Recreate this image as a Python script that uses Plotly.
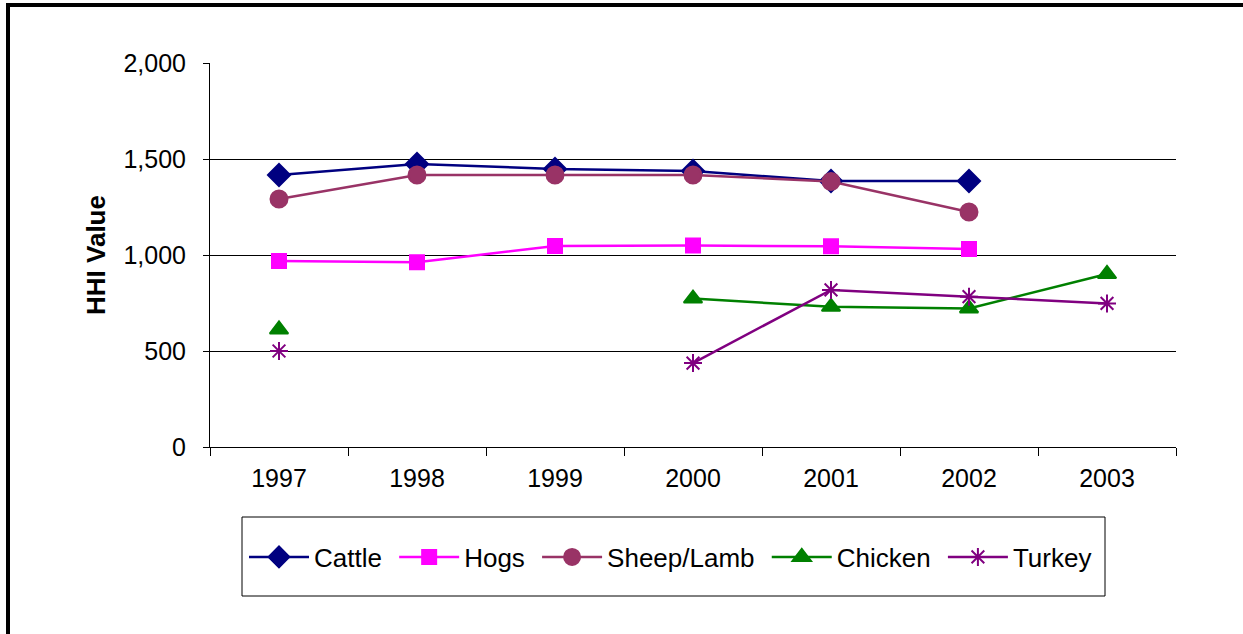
import plotly.graph_objects as go

years = ["1997", "1998", "1999", "2000", "2001", "2002", "2003"]
cattle = [1417, 1474, 1448, 1438, 1385, 1385, None]
hogs = [969, 962, 1047, 1050, 1045, 1031, None]
sheep = [1292, 1417, 1417, 1417, 1383, 1224, None]
chicken = [612, None, None, 773, 730, 722, 901]
turkey = [500, None, None, 437, 818, 783, 748]

series = [
    ("Cattle", cattle, "#000080", "diamond", 17),
    ("Hogs", hogs, "#FF00FF", "square", 14),
    ("Sheep/Lamb", sheep, "#993366", "circle", 17),
    ("Chicken", chicken, "#008000", "triangle-up", 16),
    ("Turkey", turkey, "#800080", "asterisk-open", 15),
]

W, H = 1243, 634
L, R, T, B = 210, 67, 63, 187
pw, ph = W - L - R, H - T - B

fig = go.Figure()
for name, vals, color, sym, size in series:
    fig.add_trace(go.Scatter(
        x=years, y=vals, name=name + "\u00a0", mode="lines+markers",
        line=dict(color=color, width=2.5),
        marker=dict(symbol=sym, size=size, color=color,
                    line=dict(color=color, width=2)),
        connectgaps=False,
    ))

def px_x(p):
    return (p - L) / pw

def px_y(p):
    return (H - B - p) / ph

shapes = [
    dict(type="line", xref="paper", yref="paper", x0=px_x(8), x1=px_x(8),
         y0=px_y(3), y1=px_y(H + 5), line=dict(color="black", width=4)),
    dict(type="line", xref="paper", yref="paper", x0=px_x(6), x1=px_x(W + 5),
         y0=px_y(5), y1=px_y(5), line=dict(color="black", width=4)),
    dict(type="rect", xref="paper", yref="paper", x0=px_x(242), x1=px_x(1105),
         y0=px_y(517), y1=px_y(596), line=dict(color="black", width=1)),
]

fig.update_layout(
    width=W, height=H,
    margin=dict(l=L, r=R, t=T, b=B, pad=0),
    paper_bgcolor="white", plot_bgcolor="white",
    font=dict(family="Liberation Sans, Arial, sans-serif", size=25, color="black"),
    showlegend=True,
    legend=dict(
        orientation="h", x=px_x(244), y=px_y(557), xanchor="left", yanchor="middle",
        borderwidth=0, bgcolor="rgba(0,0,0,0)",
        font=dict(size=26), itemwidth=60,
        tracegroupgap=0,
    ),
    shapes=shapes,
    xaxis=dict(
        type="category", range=[-0.5, 6.5], tickson="boundaries",
        ticks="outside", ticklen=8, tickcolor="black",
        showline=True, linecolor="black", linewidth=1,
        showgrid=False, tickfont=dict(size=25), fixedrange=True,
        ticklabelstandoff=9,
    ),
    yaxis=dict(
        range=[0, 2000], tickvals=[0, 500, 1000, 1500, 2000],
        ticktext=["0", "500", "1,000", "1,500", "2,000"],
        ticks="outside", ticklen=6, tickcolor="black",
        showline=True, linecolor="black", linewidth=1,
        showgrid=True, gridcolor="black", gridwidth=1, zeroline=False,
        tickfont=dict(size=25), ticklabelstandoff=12,
        title=dict(text="<b>HHI Value</b>", font=dict(size=26), standoff=10),
    ),
)

fig.write_html(
    "out.html",
    config={"displayModeBar": False},
    post_script="document.body.style.margin='0';document.body.style.padding='0';document.body.style.overflow='hidden';",
)
